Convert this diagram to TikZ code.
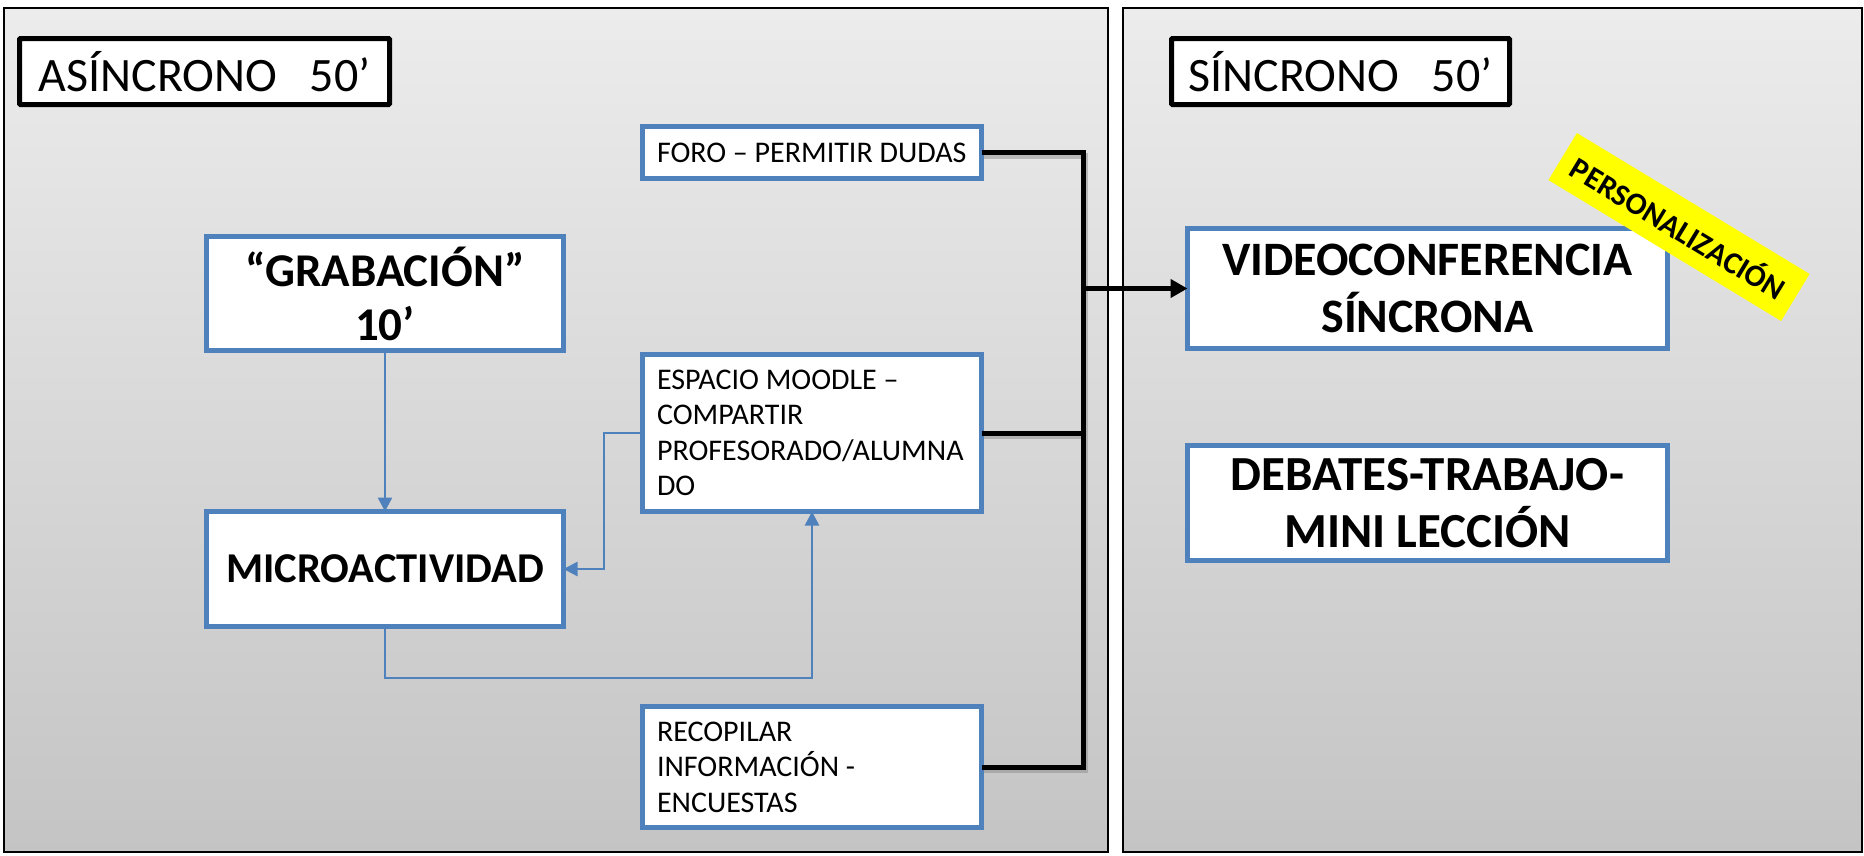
\documentclass[tikz,border=0pt]{standalone}
\usepackage{fontspec}
\setmainfont{Carlito}
\usetikzlibrary{arrows.meta}
\definecolor{boxblue}{RGB}{79,129,189}
\definecolor{paneltop}{RGB}{236,236,236}
\definecolor{panelbot}{RGB}{196,196,196}
\definecolor{banner}{RGB}{255,255,0}
\begin{document}
\begin{tikzpicture}[x=1pt,y=-1pt,
  panel/.style={draw=black, line width=1.5pt, top color=paneltop, bottom color=panelbot},
  titlebox/.style={draw=black, line width=5pt, fill=white, inner sep=0pt, outer sep=0pt,
    font=\fontsize{48}{58}\selectfont, rounded corners=1pt},
  bluebox/.style={draw=boxblue, line width=5pt, fill=white, inner sep=0pt, outer sep=0pt},
  smallbox/.style={bluebox, font=\fontsize{30}{35.5}\selectfont, align=flush left,
    text width=310pt, inner xsep=14.5pt, minimum width=339pt},
  bigbox/.style={bluebox, align=center},
  blueline/.style={draw=boxblue, line width=2.5pt},
  bluearrow/.style={blueline, -{Triangle[length=14pt,width=14pt]}},
  blackline/.style={draw=black, line width=5pt},
  shadowline/.style={draw=black!45, opacity=0.5, line width=6pt, transform canvas={shift={(2pt,-3pt)}}},
]
\useasboundingbox (0,0) rectangle (1864,855);
\fill[white] (0,0) rectangle (1864,855);

% panels
\path[panel] (4,8) rectangle (1108,852);
\path[panel] (1123,8) rectangle (1862,852);

% title boxes
\node[titlebox, minimum width=370pt, minimum height=66pt] (asin) at (204.5,71.5) {ASÍNCRONO\hspace{0.68em}50’};
\node[titlebox, minimum width=338pt, minimum height=66pt] (sinc) at (1340.5,71.5) {SÍNCRONO\hspace{0.68em}50’};

% left side boxes
\node[bigbox, font=\bfseries\fontsize{47}{54}\selectfont, minimum width=357pt, minimum height=114pt] (grab) at (385,293.5) {“GRABACIÓN”\\10’};
\node[bigbox, font=\bfseries\fontsize{42.5}{50}\selectfont, minimum width=357pt, minimum height=115pt] (micro) at (385,569) {MICROACTIVIDAD};

\node[smallbox, minimum height=52pt] (foro) at (812,152.5) {\mbox{FORO – PERMITIR DUDAS}};
\node[smallbox, minimum height=157pt] (esp) at (812,433) {ESPACIO MOODLE –\\COMPARTIR\\\mbox{PROFESORADO/ALUMNA}\\DO};
\node[smallbox, minimum height=121pt] (recop) at (812,767) {RECOPILAR\\INFORMACIÓN -\\ENCUESTAS};

% right side boxes
\node[bigbox, font=\bfseries\fontsize{48}{57}\selectfont, minimum width=480pt, minimum height=120pt] (video) at (1427.5,288.5) {VIDEOCONFERENCIA\\SÍNCRONA};
\node[bigbox, font=\bfseries\fontsize{49}{57}\selectfont, minimum width=480pt, minimum height=115pt] (deb) at (1427.5,503) {DEBATES-TRABAJO-\\MINI LECCIÓN};

% banner
\node[fill=banner, rotate=-31.2, minimum width=272pt, minimum height=55pt, inner sep=0pt,
  font=\bfseries\fontsize{31}{34}\selectfont] (pers) at (1679,227) {PERSONALIZACIÓN};

% blue connectors
\draw[bluearrow] (grab.south) -- (micro.north);
\coordinate (loopx) at (604,0);
\draw[bluearrow] (esp.west) -- (esp.west -| loopx) |- (micro.east);
\coordinate (loopy) at (0,678);
\draw[bluearrow] (micro.south) -- (micro.south |- loopy) -| (esp.south);

% black bus
\coordinate (busx) at (1083,0);
\draw[shadowline] (foro.east) -| (busx |- recop.east) -- (recop.east);
\draw[shadowline] (esp.east) -- (esp.east -| busx);
\draw[blackline, line join=miter] (foro.east) -| (busx |- recop.east) -- (recop.east);
\draw[blackline] (esp.east) -- (esp.east -| busx);
\draw[blackline, -{Triangle[length=17pt,width=18pt]}] (busx |- video.west) -- (video.west);
\end{tikzpicture}
\end{document}
